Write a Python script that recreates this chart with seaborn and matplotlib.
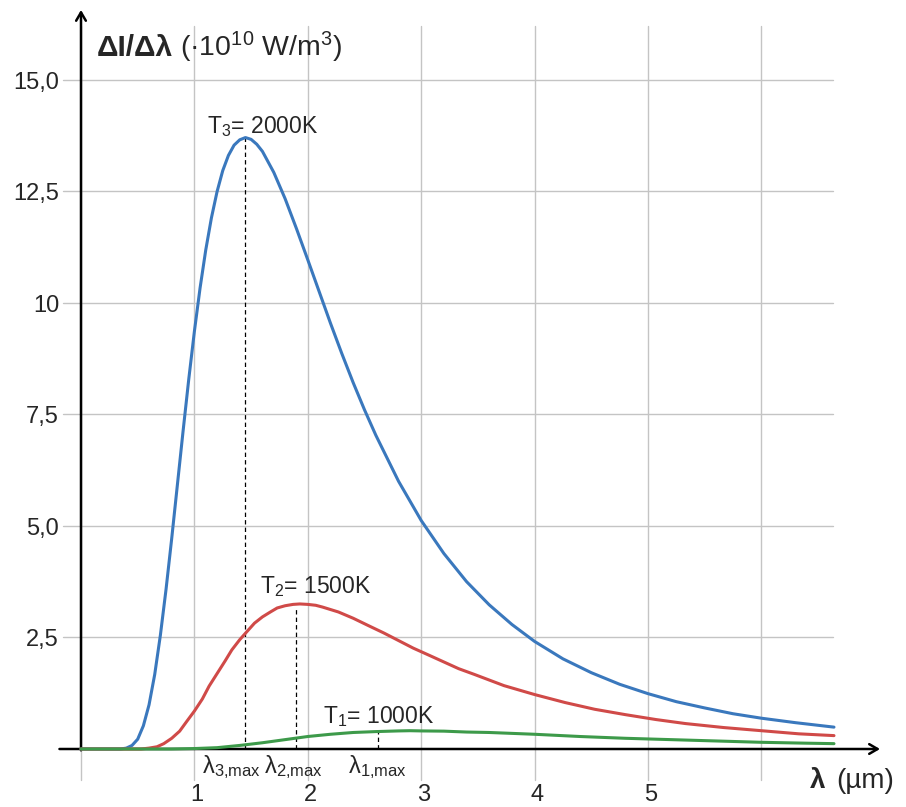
import numpy as np
import pandas as pd
import matplotlib
matplotlib.use('Agg')
import matplotlib.pyplot as plt
import seaborn as sns

# wavelength (um) and spectral intensity (x1e10 W/m^3)
lam_2000 = [0, 0.30, 0.35, 0.40, 0.45, 0.50, 0.55, 0.60, 0.65, 0.70, 0.75, 0.80, 0.85, 0.90, 0.95,
            1.00, 1.05, 1.10, 1.15, 1.20, 1.25, 1.30, 1.35, 1.40, 1.45, 1.50, 1.55, 1.60, 1.70,
            1.80, 1.90, 2.00, 2.10, 2.20, 2.30, 2.40, 2.50, 2.60, 2.80, 3.00, 3.20, 3.40, 3.60,
            3.80, 4.00, 4.25, 4.50, 4.75, 5.00, 5.25, 5.50, 5.75, 6.00, 6.30, 6.64]
I_2000 = [0, 0.00, 0.00, 0.02, 0.08, 0.22, 0.52, 0.99, 1.67, 2.55, 3.58, 4.72, 5.92, 7.12, 8.28,
          9.36, 10.33, 11.18, 11.90, 12.49, 12.96, 13.30, 13.53, 13.65, 13.70, 13.66, 13.55, 13.39, 12.92,
          12.33, 11.66, 10.96, 10.25, 9.54, 8.86, 8.21, 7.60, 7.03, 6.00, 5.12, 4.38, 3.75, 3.23,
          2.79, 2.41, 2.02, 1.71, 1.45, 1.24, 1.06, 0.92, 0.79, 0.69, 0.59, 0.49]

lam_1500 = [0, 0.53, 0.60, 0.67, 0.73, 0.80, 0.87, 0.93, 1.00, 1.07, 1.13, 1.20, 1.27, 1.33, 1.40,
            1.47, 1.53, 1.60, 1.67, 1.73, 1.80, 1.87, 1.93, 2.00, 2.07, 2.13, 2.27, 2.40, 2.53,
            2.67, 2.80, 2.93, 3.07, 3.20, 3.33, 3.47, 3.73, 4.00, 4.27, 4.53, 4.80, 5.07, 5.33,
            5.67, 6.00, 6.33, 6.64]
I_1500 = [0, 0.00, 0.02, 0.05, 0.12, 0.24, 0.40, 0.61, 0.85, 1.12, 1.41, 1.69, 1.97, 2.22, 2.45,
          2.65, 2.82, 2.96, 3.07, 3.16, 3.21, 3.24, 3.25, 3.24, 3.22, 3.18, 3.07, 2.93, 2.77,
          2.60, 2.43, 2.26, 2.10, 1.95, 1.80, 1.67, 1.42, 1.22, 1.04, 0.89, 0.77, 0.66, 0.57,
          0.48, 0.41, 0.34, 0.30]

lam_1000 = [0, 0.80, 1.00, 1.20, 1.40, 1.60, 1.80, 2.00, 2.20, 2.40, 2.60, 2.80, 2.90, 3.00,
            3.20, 3.40, 3.60, 3.80, 4.00, 4.40, 4.80, 5.20, 5.60, 6.00, 6.40, 6.64]
I_1000 = [0, 0.00, 0.01, 0.03, 0.08, 0.14, 0.21, 0.28, 0.33, 0.37, 0.39, 0.405, 0.41, 0.405,
          0.40, 0.38, 0.37, 0.35, 0.33, 0.28, 0.24, 0.21, 0.18, 0.15, 0.13, 0.12]

temps = ['2000K', '1500K', '1000K']
colors = ['#3a78bd', '#d04a48', '#3d9a4a']
curve_labels = ['T$_3$= 2000K', 'T$_2$= 1500K', 'T$_1$= 1000K']
max_labels = ['λ$_{3{,}\\mathrm{max}}$', 'λ$_{2{,}\\mathrm{max}}$', 'λ$_{1{,}\\mathrm{max}}$']
lam_max = [1.443, 1.899, 2.622]
dash_top = [13.68, 3.17, 0.39]

x_ticks = [1, 2, 3, 4, 5]
grid_x = [0, 1, 2, 3, 4, 5, 6]
y_ticks = [2.5, 5.0, 7.5, 10.0, 12.5, 15.0]
y_tick_labels = ['2,5', '5,0', '7,5', '10', '12,5', '15,0']

df = pd.concat([
    pd.DataFrame({'lam': lam_2000, 'I': I_2000, 'T': '2000K'}),
    pd.DataFrame({'lam': lam_1500, 'I': I_1500, 'T': '1500K'}),
    pd.DataFrame({'lam': lam_1000, 'I': I_1000, 'T': '1000K'}),
], ignore_index=True)

sns.set_style('white')
plt.rcParams['font.family'] = ['Liberation Sans', 'DejaVu Sans']
plt.rcParams['mathtext.fontset'] = 'custom'
plt.rcParams['mathtext.rm'] = 'Liberation Sans'
plt.rcParams['mathtext.it'] = 'Liberation Sans:italic'
plt.rcParams['mathtext.bf'] = 'Liberation Sans:bold'

fig = plt.figure(figsize=(9.06, 8.07), dpi=100)
ax = fig.add_axes([0, 0, 1, 1])
ax.set_xlim(-0.7143, 7.2751)
ax.set_ylim(-1.2996, 16.7824)

# grid
for gx in grid_x:
    ax.plot([gx, gx], [-0.69, 16.2], color='#c4c4c4', lw=1.0, zorder=0)
for gy in y_ticks:
    ax.plot([-0.16, 6.63], [gy, gy], color='#c4c4c4', lw=1.0, zorder=0)

# axes with arrows
arrow = dict(arrowstyle='->,head_length=0.6,head_width=0.35', lw=1.8, color='black',
             shrinkA=0, shrinkB=0)
ax.annotate('', xy=(7.046, 0), xytext=(-0.19, 0), arrowprops=arrow, zorder=2)
ax.annotate('', xy=(0, 16.56), xytext=(0, -0.03), arrowprops=arrow, zorder=2)

sns.lineplot(data=df, x='lam', y='I', hue='T', hue_order=temps,
             palette=dict(zip(temps, colors)), lw=2.2, legend=False,
             sort=False, estimator=None, ax=ax, zorder=3)
ax.axis('off')

# dashed lines at the maxima
for lm, top in zip(lam_max, dash_top):
    ax.plot([lm, lm], [0, top], color='black', lw=0.9, ls=(0, (3.5, 2.5)), zorder=2.5)

# labels
ax.text(1.111, 13.80, curve_labels[0], fontsize=16.5, va='baseline')
ax.text(1.578, 3.49, curve_labels[1], fontsize=16.5, va='baseline')
ax.text(2.137, 0.59, curve_labels[2], fontsize=16.5, va='baseline')

ax.text(1.064, -0.545, max_labels[0], fontsize=17, va='baseline')
ax.text(1.614, -0.545, max_labels[1], fontsize=17, va='baseline')
ax.text(2.357, -0.545, max_labels[2], fontsize=17, va='baseline')

for xt in x_ticks:
    ax.text(xt + 0.02, -1.27, str(xt), fontsize=17, ha='center', va='bottom')
for yt, yl in zip(y_ticks, y_tick_labels):
    ax.text(-0.194, yt - 0.067, yl, fontsize=17, ha='right', va='center')

ax.text(0.138, 15.53, 'ΔI/Δλ', fontsize=21.5, fontweight='bold', va='baseline')
ax.text(0.873, 15.53, '(·10$^{10}$ W/m$^3$)', fontsize=20.5, va='baseline')

ax.text(6.429, -0.88, 'λ', fontsize=20, fontweight='bold', va='baseline')
ax.text(7.169, -0.88, '(µm)', fontsize=20, ha='right', va='baseline')

fig.savefig('out.png', dpi=100)
